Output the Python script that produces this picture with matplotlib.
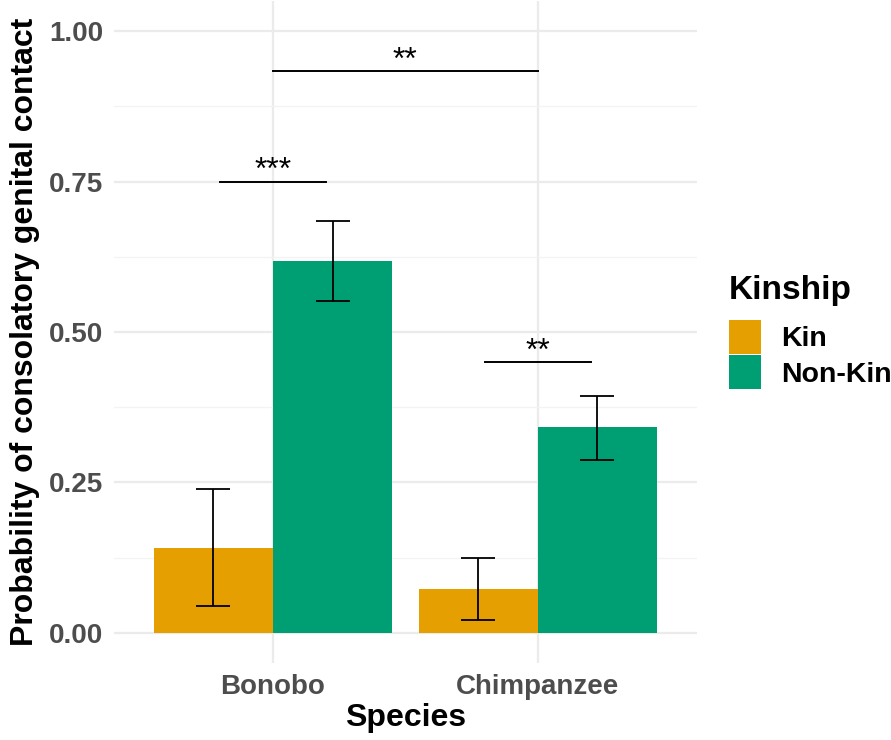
import matplotlib.pyplot as plt
import numpy as np

plt.rcParams['font.family'] = ['Liberation Sans', 'DejaVu Sans']

species = ['Bonobo', 'Chimpanzee']
kinship = ['Kin', 'Non-Kin']
colors = ['#E69F00', '#009E73']

# predicted probabilities with lower / upper CI
prob = {'Kin': [0.141, 0.073], 'Non-Kin': [0.618, 0.342]}
lower = {'Kin': [0.045, 0.022], 'Non-Kin': [0.551, 0.287]}
upper = {'Kin': [0.239, 0.124], 'Non-Kin': [0.684, 0.394]}

# significance brackets: (left, right), height, label
sig_x = [(-0.2, 0.2), (0.0, 1.0), (0.8, 1.2)]
sig_y = [0.75, 0.933, 0.45]
sig_lab = ['***', '**', '**']

fig = plt.figure(figsize=(8.91, 7.40), dpi=100)
ax = fig.add_axes([0.128, 0.104, 0.654, 0.8946])

x = np.arange(len(species))
w = 0.45
for i, k in enumerate(kinship):
    xs = x + (i - 0.5) * w
    ax.bar(xs, prob[k], width=w, color=colors[i], label=k, zorder=2)
    p = np.array(prob[k])
    yerr = [p - np.array(lower[k]), np.array(upper[k]) - p]
    ax.errorbar(xs, p, yerr=yerr, fmt='none', ecolor='black', elinewidth=1.3,
                capsize=12, capthick=1.3, zorder=3)

for (x1, x2), yy, lab in zip(sig_x, sig_y, sig_lab):
    ax.plot([x1, x2], [yy, yy], color='black', lw=1.4, zorder=3)
    ax.text((x1 + x2) / 2, yy + 0.004, lab, ha='center', va='baseline', fontsize=23)

ax.set_xlim(-0.6, 1.6)
ax.set_ylim(-0.05, 1.05)
ax.set_xticks(x)
ax.set_xticklabels(species)
ax.set_yticks([0, 0.25, 0.5, 0.75, 1.0])
ax.set_yticklabels(['0.00', '0.25', '0.50', '0.75', '1.00'])
ax.set_yticks([0.125, 0.375, 0.625, 0.875], minor=True)
ax.tick_params(axis='both', which='both', length=0, labelsize=20, labelcolor='#4D4D4D', pad=8)
for lbl in ax.get_xticklabels() + ax.get_yticklabels():
    lbl.set_fontweight('bold')

ax.grid(which='major', color='#EBEBEB', lw=1.6, zorder=0)
ax.grid(which='minor', axis='y', color='#F3F3F3', lw=0.9, zorder=0)
ax.set_axisbelow(True)
for s in ax.spines.values():
    s.set_visible(False)

ax.set_xlabel('Species', fontsize=23, fontweight='bold', labelpad=2)
ax.set_ylabel('Probability of consolatory genital contact', fontsize=23,
              fontweight='bold', labelpad=6)

leg = ax.legend(title='Kinship', loc='center left', bbox_to_anchor=(1.035, 0.5),
                frameon=False, fontsize=20.5, title_fontsize=24,
                handlelength=1.15, handleheight=1.45, handletextpad=0.7,
                labelspacing=0.05, borderaxespad=0)
leg.get_title().set_fontweight('bold')
leg._legend_box.align = 'left'
leg._legend_box.sep = 10
for t in leg.get_texts():
    t.set_fontweight('bold')

fig.savefig('out.png', dpi=100)
